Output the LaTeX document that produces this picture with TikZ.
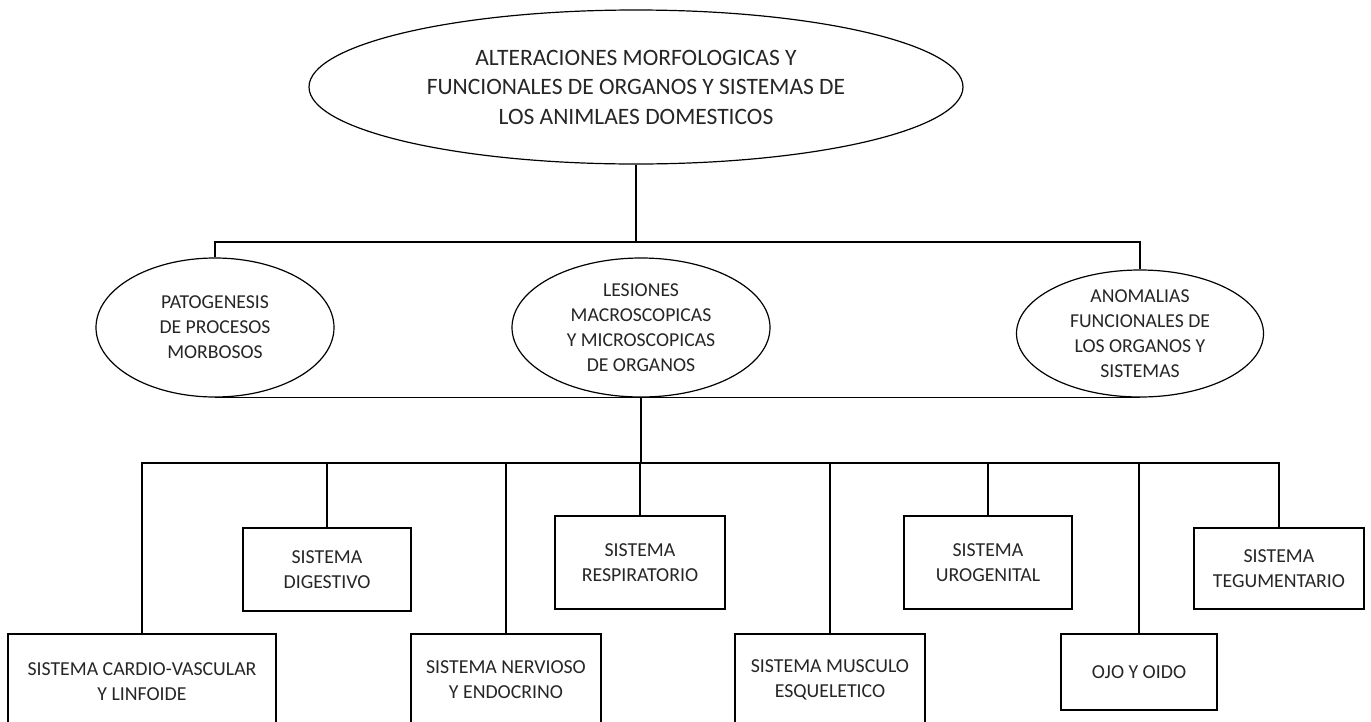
\documentclass[tikz,border=0pt]{standalone}
\usepackage{fontspec}
\setmainfont{Carlito}
\usetikzlibrary{shapes.geometric}
\begin{document}
\begin{tikzpicture}[x=1pt,y=-1pt,
  every node/.style={inner sep=0pt, text=black!85, align=center},
  ell/.style={draw, ellipse, line width=1.2pt, font=\fontsize{19.7}{25}\selectfont},
  bigell/.style={draw, ellipse, line width=1.2pt, font=\fontsize{23.5}{29.5}\selectfont},
  sbox/.style={draw, rectangle, line width=1.2pt, font=\fontsize{19.8}{25}\selectfont},
  conn/.style={line width=1.3pt}]
\useasboundingbox (0,0) rectangle (1371,721);
\clip (0,0) rectangle (1371,721);
\fill[white] (0,0) rectangle (1371,721);
\node[bigell, minimum width=654pt, minimum height=154pt] (top) at (636,87)
  {ALTERACIONES MORFOLOGICAS Y\\FUNCIONALES DE ORGANOS Y SISTEMAS DE\\LOS ANIMLAES DOMESTICOS};
\node[ell, minimum width=238pt, minimum height=139pt] (pat) at (215,327.5)
  {PATOGENESIS\\DE PROCESOS\\MORBOSOS};
\node[ell, minimum width=258pt, minimum height=139pt] (les) at (641,327.5)
  {LESIONES\\MACROSCOPICAS\\Y MICROSCOPICAS\\DE ORGANOS};
\node[ell, minimum width=247pt, minimum height=127pt] (anom) at (1140,333.5)
  {ANOMALIAS\\FUNCIONALES DE\\LOS ORGANOS Y\\SISTEMAS};
\node[sbox, minimum width=268pt, minimum height=96pt] (cardio) at (142,682)
  {SISTEMA CARDIO-VASCULAR\\Y LINFOIDE};
\node[sbox, minimum width=168pt, minimum height=83pt] (dig) at (327,569.5)
  {SISTEMA\\DIGESTIVO};
\node[sbox, minimum width=190pt, minimum height=92pt] (nerv) at (506,680)
  {SISTEMA NERVIOSO\\Y ENDOCRINO};
\node[sbox, minimum width=170pt, minimum height=93pt] (resp) at (640,562.5)
  {SISTEMA\\RESPIRATORIO};
\node[sbox, minimum width=190pt, minimum height=92pt] (musc) at (830,680)
  {SISTEMA MUSCULO\\ESQUELETICO};
\node[sbox, minimum width=168pt, minimum height=93pt] (uro) at (988,562.5)
  {SISTEMA\\UROGENITAL};
\node[sbox, minimum width=156pt, minimum height=76pt] (ojo) at (1139,672)
  {OJO Y OIDO};
\node[sbox, minimum width=170pt, minimum height=81pt] (teg) at (1279,568.5)
  {SISTEMA\\TEGUMENTARIO};
\coordinate (busA) at (0,242);
\coordinate (busB) at (0,463);
\draw[conn] (top.south) -- (top.south |- busA);
\draw[conn] (pat.north) |- (anom.north |- busA) -- (anom.north);
\draw[conn] (pat.south) -- (anom.south);
\draw[conn] (les.south) -- (les.south |- busB);
\draw[conn] (cardio.north) |- (teg.north |- busB) -- (teg.north);
\foreach \n in {dig,nerv,resp,musc,uro,ojo}
  \draw[conn] (\n.north) -- (\n.north |- busB);
\end{tikzpicture}
\end{document}
